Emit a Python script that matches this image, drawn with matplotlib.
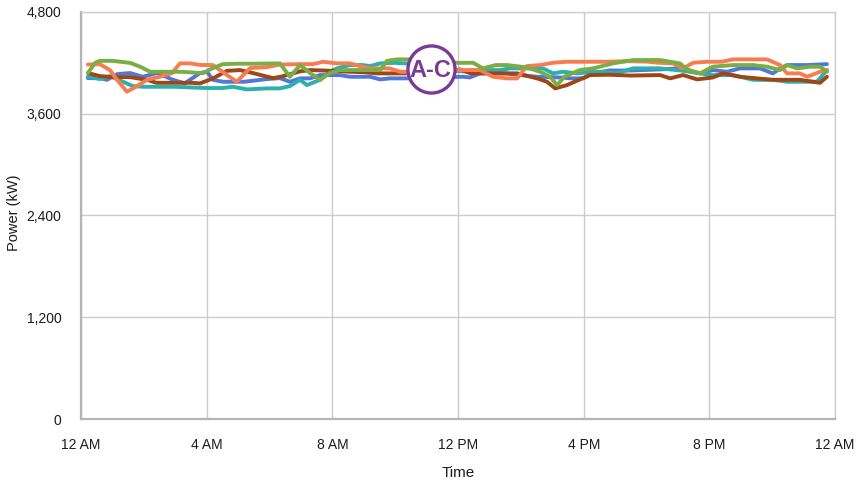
import matplotlib
matplotlib.use("Agg")
import matplotlib.pyplot as plt

# ---- data (hours since midnight, kW) ----
orange_h = [0.22, 0.6, 0.92, 1.15, 1.46, 1.75, 2.1, 2.51, 2.9, 3.15, 3.47, 3.79, 4.2, 4.65, 4.96,
            5.38, 5.92, 6.33, 6.97, 7.38, 7.7, 8.15, 8.56, 8.88, 9.2, 9.83, 10.15, 10.8, 11.5,
            12.06, 12.7, 13.11, 13.56, 13.88, 14.19, 14.61, 15.02, 15.47, 16.0, 16.74, 17.4,
            18.0, 18.43, 18.84, 19.16, 19.48, 19.92, 20.4, 20.75, 21.2, 21.83, 22.25, 22.47,
            22.88, 23.11, 23.52, 23.74]
orange_kw = [4180, 4185, 4115, 4000, 3860, 3918, 4000, 4036, 4080, 4194, 4194, 4175, 4174, 4056, 3977,
             4138, 4150, 4180, 4185, 4185, 4213, 4194, 4194, 4162, 4135, 4135, 4095, 4090, 4100,
             4115, 4115, 4036, 4017, 4017, 4162, 4174, 4201, 4213, 4213, 4213, 4220,
             4215, 4200, 4194, 4135, 4201, 4213, 4213, 4241, 4241, 4241, 4174, 4076,
             4076, 4036, 4095, 4115]

green_h = [0.22, 0.45, 0.6, 1.0, 1.56, 1.88, 2.2, 2.6, 3.2, 3.79, 3.88, 4.2, 4.52, 5.0, 5.5, 6.33,
           6.65, 6.97, 7.29, 7.61, 7.92, 8.24, 8.8, 9.52, 9.74, 10.06, 10.47, 11.0, 11.5, 12.0,
           12.48, 12.79, 13.2, 13.56, 14.19, 14.61, 14.93, 15.15, 15.4, 15.88, 16.3, 16.93,
           17.57, 18.43, 19.06, 19.29, 19.7, 20.11, 20.75, 21.39, 21.83, 22.25, 22.47, 22.79,
           23.2, 23.52, 23.74]
green_kw = [4080, 4200, 4224, 4224, 4200, 4155, 4095, 4095, 4095, 4080, 4080, 4138, 4185, 4190, 4190, 4194,
            4036, 4174, 4080, 4000, 4080, 4115, 4115, 4115, 4224, 4241, 4241, 4240, 4220, 4200,
            4201, 4135, 4174, 4174, 4146, 4095, 4036, 3938, 4040, 4115, 4135, 4194,
            4233, 4233, 4194, 4123, 4076, 4155, 4174, 4174, 4155, 4115, 4174, 4135,
            4155, 4155, 4095]

brown_h = [0.22, 0.6, 1.0, 1.56, 2.1, 2.4, 3.0, 3.5, 3.79, 4.2, 4.65, 5.06, 5.47, 6.11, 6.4, 6.97,
           7.3, 8.0, 8.56, 9.0, 9.42, 10.25, 11.0, 11.97, 12.06, 12.4, 13.0, 13.88, 14.51, 14.83,
           15.09, 15.47, 15.88, 16.2, 16.8, 17.5, 18.43, 18.75, 19.16, 19.61, 20.11, 20.43,
           20.97, 21.51, 22.02, 22.88, 23.52, 23.74]
brown_kw = [4080, 4044, 4032, 4032, 4000, 3965, 3965, 3965, 3958, 4017, 4106, 4115, 4080, 4020, 4040, 4100,
            4115, 4106, 4095, 4090, 4076, 4076, 4080, 4115, 4123, 4076, 4076, 4076, 4017, 3977,
            3899, 3938, 4005, 4056, 4060, 4050, 4056, 4017, 4056, 4005, 4028, 4076,
            4036, 4017, 4000, 4000, 3965, 4036]

blue_h = [0.22, 0.6, 0.83, 1.15, 1.56, 1.97, 2.42, 2.93, 3.3, 3.79, 4.01, 4.2, 4.52, 5.2, 5.92, 6.33,
          6.65, 6.97, 7.29, 7.61, 8.24, 8.56, 9.2, 9.52, 9.83, 10.25, 10.8, 11.5, 12.16, 12.38,
          12.7, 13.5, 14.51, 15.24, 15.6, 15.98, 16.3, 16.8, 17.5, 18.43, 19.0, 19.7, 20.11,
          20.56, 20.97, 21.61, 22.02, 22.25, 22.47, 23.11, 23.74]
blue_kw = [4020, 4020, 4000, 4067, 4080, 4036, 4080, 4000, 3958, 4080, 4095, 4000, 3977, 3977, 4009, 4020,
           3977, 4017, 4017, 4056, 4056, 4036, 4036, 4005, 4017, 4017, 4020, 4030, 4036, 4028,
           4076, 4076, 4036, 4028, 4017, 4017, 4076, 4110, 4110, 4123, 4135, 4076, 4115,
           4095, 4135, 4135, 4076, 4135, 4174, 4174, 4185]

teal_h = [0.22, 0.6, 0.92, 1.34, 1.65, 2.0, 2.5, 3.0, 3.5, 4.0, 4.5, 4.84, 5.28, 5.92, 6.33, 6.65,
          6.97, 7.19, 7.61, 7.92, 8.15, 8.56, 8.97, 9.2, 9.52, 10.0, 10.5, 11.0, 11.5, 12.16,
          12.7, 13.34, 13.65, 14.19, 14.7, 15.02, 15.34, 15.79, 16.3, 16.61, 17.06, 17.57,
          18.43, 19.2, 19.7, 20.11, 20.75, 21.39, 22.02, 22.47, 23.11, 23.42, 23.74]
teal_kw = [4036, 4009, 4044, 3977, 3926, 3918, 3918, 3918, 3910, 3903, 3903, 3918, 3887, 3899, 3899, 3926,
           4000, 3938, 4000, 4095, 4135, 4174, 4174, 4162, 4194, 4200, 4190, 4150, 4110, 4100,
           4115, 4115, 4135, 4135, 4135, 4076, 4095, 4076, 4095, 4095, 4076, 4135,
           4135, 4105, 4076, 4056, 4056, 4000, 4000, 3977, 3977, 3977, 4115]

x_ticks = [0, 4, 8, 12, 16, 20, 24]
x_labels = ["12 AM", "4 AM", "8 AM", "12 PM", "4 PM", "8 PM", "12 AM"]
y_ticks = [0, 1200, 2400, 3600, 4800]
y_labels = ["0", "1,200", "2,400", "3,600", "4,800"]

badge_h, badge_kw, badge_text = 11.13, 4130, "A-C"

# ---- style ----
plt.rcParams["font.family"] = ["Liberation Sans", "DejaVu Sans"]
text_color = "#1c1c1c"
grid_color = "#cccccc"
purple = "#7b3a96"

fig = plt.figure(figsize=(8.56, 4.87), dpi=100)
ax = fig.add_axes([0.0946, 0.1396, 0.881, 0.8358])

series = [
    (blue_h, blue_kw, "#5377d6"),
    (teal_h, teal_kw, "#2bb0ae"),
    (brown_h, brown_kw, "#9e4616"),
    (orange_h, orange_kw, "#f67d51"),
    (green_h, green_kw, "#79ad45"),
]
for hrs, kw, col in series:
    ax.plot(hrs, kw, color=col, lw=2.8, solid_joinstyle="round", solid_capstyle="round", zorder=3)

# A-C badge
ax.scatter([badge_h], [badge_kw], s=1150, facecolor="white", edgecolor=purple, linewidth=2.4, zorder=5)
ax.text(badge_h, badge_kw - 15, badge_text, color=purple, fontsize=17, fontweight="bold",
        ha="center", va="center", zorder=6)

ax.set_xlim(0, 24)
ax.set_ylim(0, 4800)
ax.set_xticks(x_ticks)
ax.set_xticklabels(x_labels)
ax.set_yticks(y_ticks)
ax.set_yticklabels(y_labels)
ax.tick_params(length=0, labelsize=10, colors=text_color)
ax.tick_params(axis="x", pad=14)
ax.tick_params(axis="y", pad=14)

ax.grid(True, color=grid_color, lw=1)
ax.set_axisbelow(True)
for side in ["top", "right"]:
    ax.spines[side].set_color("#cfcfcf")
    ax.spines[side].set_linewidth(1)
for side in ["left", "bottom"]:
    ax.spines[side].set_color("#b5b5b5")
    ax.spines[side].set_linewidth(1.6)

ax.set_xlabel("Time", fontsize=11, color=text_color, labelpad=10)
ax.set_ylabel("Power (kW)", fontsize=10.5, color=text_color)
ax.yaxis.set_label_coords(-0.08, 0.506)

fig.savefig("out.png", dpi=100)
